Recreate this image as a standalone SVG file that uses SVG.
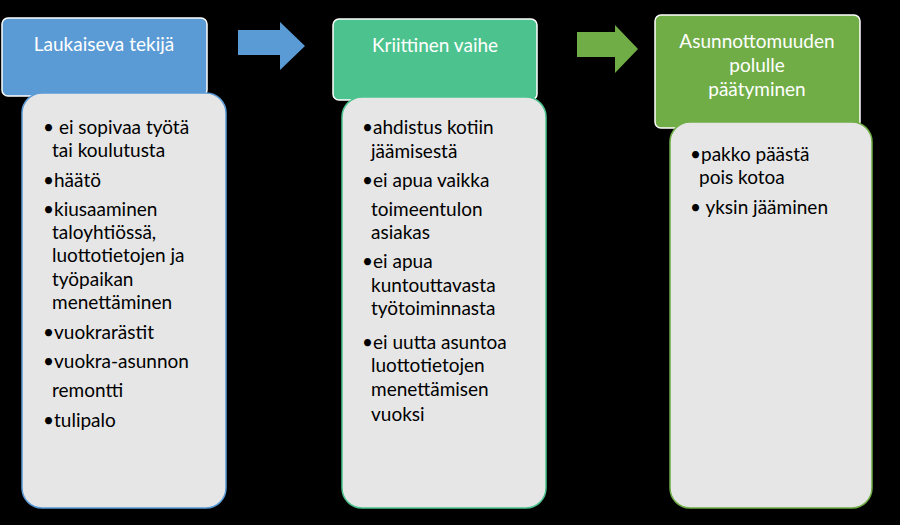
<svg xmlns="http://www.w3.org/2000/svg" width="900" height="525" viewBox="0 0 900 525">
<style>
.h{fill:#fff;font-family:Lato,"Open Sans",sans-serif;font-size:19px;text-anchor:middle}
.t{fill:#000;font-family:Lato,"Open Sans",sans-serif;font-size:19px}
.hb{stroke:#fff;stroke-width:1.5}
.gb{fill:#e6e6e6;stroke-width:1.5}
</style>
<rect width="900" height="525" fill="#000"/>
<g id="connectors">
<polygon points="238,30 280,30 280,22 305,46 280,70 280,55 238,55" fill="#5b9bd5"/>
<polygon points="577,32 615,32 615,25 638,49 615,73 615,57 577,57" fill="#70ad47"/>
</g>
<g id="n1">
<rect class="hb" x="2" y="18" width="205" height="78" rx="6" fill="#5b9bd5"/>
<text class="h" x="104" y="51">Laukaiseva tekijä</text>
<rect class="gb" x="22" y="93" width="204" height="415" rx="20" stroke="#5b9bd5"/>
<text class="t"><tspan x="43" y="134">• ei sopivaa työtä</tspan><tspan x="52" y="157">tai koulutusta</tspan><tspan x="43" y="187">•häätö</tspan><tspan x="43" y="216">•kiusaaminen</tspan><tspan x="52" y="239">taloyhtiössä,</tspan><tspan x="52" y="262">luottotietojen ja</tspan><tspan x="52" y="286">työpaikan</tspan><tspan x="52" y="309">menettäminen</tspan><tspan x="43" y="339">•vuokrarästit</tspan><tspan x="43" y="368">•vuokra-asunnon</tspan><tspan x="52" y="397">remontti</tspan><tspan x="43" y="427">•tulipalo</tspan></text>
</g>
<g id="n2">
<rect class="hb" x="333" y="19" width="204" height="81" rx="6" fill="#4cc38e"/>
<text class="h" x="435" y="52">Kriittinen vaihe</text>
<rect class="gb" x="342" y="97" width="204" height="411" rx="20" stroke="#4cc38e"/>
<text class="t"><tspan x="362" y="134">•ahdistus kotiin</tspan><tspan x="371" y="158">jäämisestä</tspan><tspan x="362" y="187">•ei apua vaikka</tspan><tspan x="371" y="216">toimeentulon</tspan><tspan x="371" y="239">asiakas</tspan><tspan x="362" y="268">•ei apua</tspan><tspan x="371" y="292">kuntouttavasta</tspan><tspan x="371" y="315">työtoiminnasta</tspan><tspan x="362" y="349">•ei uutta asuntoa</tspan><tspan x="371" y="372">luottotietojen</tspan><tspan x="371" y="396">menettämisen</tspan><tspan x="371" y="421">vuoksi</tspan></text>
</g>
<g id="n3">
<rect class="hb" x="655" y="15" width="205" height="113" rx="6" fill="#70ad47"/>
<text class="h"><tspan x="757" y="48">Asunnottomuuden</tspan><tspan x="757" y="72">polulle</tspan><tspan x="757" y="96">päätyminen</tspan></text>
<rect class="gb" x="670" y="122" width="202" height="386" rx="20" stroke="#70ad47"/>
<text class="t"><tspan x="690" y="161">•pakko päästä</tspan><tspan x="699" y="184">pois kotoa</tspan><tspan x="690" y="214">• yksin jääminen</tspan></text>
</g>
</svg>
